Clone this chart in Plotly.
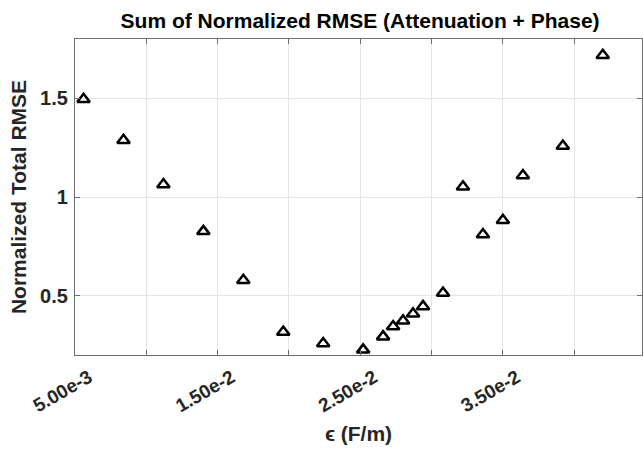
import plotly.graph_objects as go

# Data
eps_vals = [0.0056, 0.0084, 0.0112, 0.0140, 0.0168, 0.0196, 0.0224, 0.0252,
            0.0266, 0.0273, 0.0280, 0.0287, 0.0294, 0.0308, 0.0322, 0.0336,
            0.0350, 0.0364, 0.0392, 0.0420]
rmse_vals = [1.495, 1.287, 1.063, 0.826, 0.578, 0.316, 0.258, 0.226,
             0.293, 0.344, 0.373, 0.409, 0.446, 0.514, 1.052, 0.810,
             0.882, 1.109, 1.258, 1.718]

x_tickvals = [0.005, 0.010, 0.015, 0.020, 0.025, 0.030, 0.035, 0.040, 0.045]
x_ticktext = ["5.00e-3", "", "1.50e-2", "", "2.50e-2", "", "3.50e-2", "", ""]
y_tickvals = [0.5, 1.0, 1.5]
y_ticktext = ["0.5", "1", "1.5"]

FONT = "Liberation Sans, Arial, Helvetica, sans-serif"

fig = go.Figure()
fig.add_trace(go.Scatter(
    x=eps_vals, y=rmse_vals, mode="markers",
    marker=dict(symbol="triangle-up-open", size=11, color="black",
                line=dict(width=2.5, color="black")),
    showlegend=False, cliponaxis=False,
))

axis_common = dict(
    showline=True, linecolor="#6e6e6e", linewidth=1.2, mirror="ticks",
    ticks="inside", ticklen=5, tickcolor="#6e6e6e", tickwidth=1,
    showgrid=True, gridcolor="#e4e4e4", gridwidth=1, zeroline=False,
)

fig.update_layout(
    width=643, height=450,
    margin=dict(l=75, r=1, t=39, b=95),
    plot_bgcolor="white", paper_bgcolor="white",
    title=dict(text="Sum of Normalized RMSE (Attenuation + Phase)",
               x=0.56, xanchor="center", y=0.955, yanchor="middle",
               font=dict(family=FONT, size=21, color="black", weight="bold")),
    xaxis=dict(range=[0.005, 0.04475], tickvals=x_tickvals, ticktext=x_ticktext,
               tickangle=-30, ticklabelshift=14, ticklabelstandoff=3,
               tickfont=dict(family=FONT, size=19, color="#262626", weight="bold"),
               title=dict(text="\u03f5 (F/m)", standoff=10,
                          font=dict(family=FONT, size=21, color="#262626", weight="bold")),
               **axis_common),
    yaxis=dict(range=[0.2, 1.8], tickvals=y_tickvals, ticktext=y_ticktext,
               ticklabelstandoff=2,
               tickfont=dict(family=FONT, size=20, color="#262626", weight="bold"),
               title=dict(text="Normalized Total RMSE", standoff=7,
                          font=dict(family=FONT, size=21, color="#262626", weight="bold")),
               **axis_common),
)

fig.write_html("out.html")
